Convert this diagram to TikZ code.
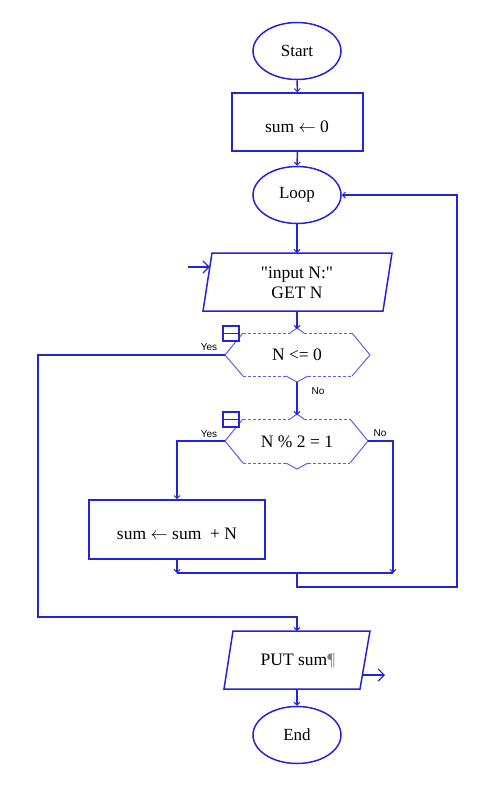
\documentclass[tikz,border=0pt]{standalone}
\usepackage{fontspec}
\setmainfont{Liberation Serif}
\setsansfont{Liberation Sans}
\newfontfamily\plainserif{Liberation Serif}
\usetikzlibrary{shapes.geometric,arrows.meta}
\definecolor{fc}{RGB}{35,35,220}
\definecolor{fcl}{RGB}{95,95,230}
\tikzset{
  line/.style={draw=fc, line width=1.5pt},
  arr/.style={line, -{Straight Barb[length=3pt,width=6pt,line width=1pt]}},
  bigarr/.style={line, -{Straight Barb[length=6pt,width=12pt,line width=1.2pt]}},
  term/.style={ellipse, draw=fc, line width=1.5pt, minimum width=88pt, minimum height=57pt, inner sep=0pt, font=\fontsize{17}{20}\selectfont},
  proc/.style={rectangle, draw=fc, line width=1.6pt, inner sep=0pt},
  txt/.style={font=\fontsize{17.5}{20}\selectfont, inner sep=0pt},
  lab/.style={font=\sffamily\fontsize{10}{12}\selectfont, inner sep=0pt},
  hexd/.style={draw=fcl, line width=1pt, dash pattern=on 3pt off 2pt},
  hexs/.style={draw=fcl, line width=1pt},
  icon/.style={draw=fc, fill=white, line width=1.2pt}
}
\begin{document}
\begin{tikzpicture}[x=1pt,y=-1pt]
\useasboundingbox[fill=white] (0,0) rectangle (500,807);

% terminals and process boxes
\node[term] (start) at (297,51) {Start};
\node[proc, minimum width=131pt, minimum height=58pt] (init) at (297.5,122) {};
\node[txt] (initt) at (297,127) {sum $\leftarrow$ 0};
\node[term] (loop) at (297,195) {Loop};

% input parallelogram
\draw[line] (212,253) -- (392,253) -- (383,311) -- (203,311) -- cycle;
\coordinate (in_t) at (297,253);
\coordinate (in_b) at (297,311);
\coordinate (in_l) at (209.8,267);
\coordinate (ent) at (188,267);
\node[txt, align=center] (inp) at (297,283) {{\plainserif "input N:"}\\GET N};

% decision 1
\draw[hexs] (243,376) -- (225,355) -- (243,333);
\draw[hexs] (352,333) -- (370,355) -- (352,376);
\draw[hexd] (243,333) -- (290,333);
\draw[hexd] (304,333) -- (352,333);
\draw[hexs] (290,333) -- (297,328) -- (304,333);
\draw[hexd] (243,376) -- (286,376);
\draw[hexd] (308,376) -- (352,376);
\draw[hexs] (286,376) -- (297,382) -- (308,376);
\coordinate (d1_t) at (297,329);
\coordinate (d1_b) at (297,382);
\coordinate (d1_l) at (225,355);
\node[txt] (d1t) at (297,355) {N <= 0};
\draw[icon] (223,326) rectangle (239,341);
\draw[draw=fc, line width=1.2pt] (223,333.5) -- (239,333.5);

% decision 2
\draw[hexs] (243,463) -- (225,441) -- (243,419);
\draw[hexs] (350,419) -- (368,441) -- (350,463);
\draw[hexd] (243,419) -- (290,419);
\draw[hexd] (304,419) -- (350,419);
\draw[hexs] (290,419) -- (297,414) -- (304,419);
\draw[hexd] (243,463) -- (286,463);
\draw[hexd] (308,463) -- (350,463);
\draw[hexs] (286,463) -- (297,469) -- (308,463);
\coordinate (d2_t) at (297,415);
\coordinate (d2_l) at (225,441);
\coordinate (d2_r) at (368,441);
\node[txt] (d2t) at (297,442) {N \% 2 = 1};
\draw[icon] (223,412) rectangle (239,427);
\draw[draw=fc, line width=1.2pt] (223,419.5) -- (239,419.5);

% sum box
\node[proc, minimum width=176pt, minimum height=59pt] (add) at (177,529.5) {};
\node[txt] (addt) at (177,534) {sum $\leftarrow$ sum\ \ + N};

% output parallelogram
\draw[line] (233,631) -- (370,631) -- (360,689) -- (224,689) -- cycle;
\coordinate (put_t) at (297,631);
\coordinate (put_b) at (297,689);
\coordinate (put_r) at (362.4,675);
\coordinate (out) at (385,675);
\node[txt] (putt) at (298,661) {PUT sum\textcolor{gray}{¶}};

\node[term] (end) at (297,735) {End};

% merge coordinates
\coordinate (m1) at (177,573);
\coordinate (m2) at (393,573);
\coordinate (mc) at (297,573);
\coordinate (lp) at (457,587);
\coordinate (yl) at (38,617);

% connectors
\draw[arr] (start) -- (init);
\draw[arr] (init) -- (loop);
\draw[arr] (loop) -- (in_t);
\draw[bigarr] (ent) -- (in_l);
\draw[arr] (in_b) -- (d1_t);
\draw[arr] (d1_b) -- (d2_t);
\draw[arr] (d2_l) -| (add.north);
\draw[arr] (d2_r) -| (m2);
\draw[arr] (add.south) -- (m1);
\draw[line] (m1) -- (m2);
\draw[arr] (mc) -- (297,587) -| (lp |- loop.east) -- (loop.east);
\draw[arr] (d1_l) -| (yl) -| (put_t);
\draw[arr] (put_b) -- (end);
\draw[bigarr] (put_r) -- (out);

% labels
\node[lab] (y1) at (209,347) {Yes};
\node[lab] (n1) at (318,391) {No};
\node[lab] (y2) at (209,434) {Yes};
\node[lab] (n2) at (380,433) {No};
\end{tikzpicture}
\end{document}
